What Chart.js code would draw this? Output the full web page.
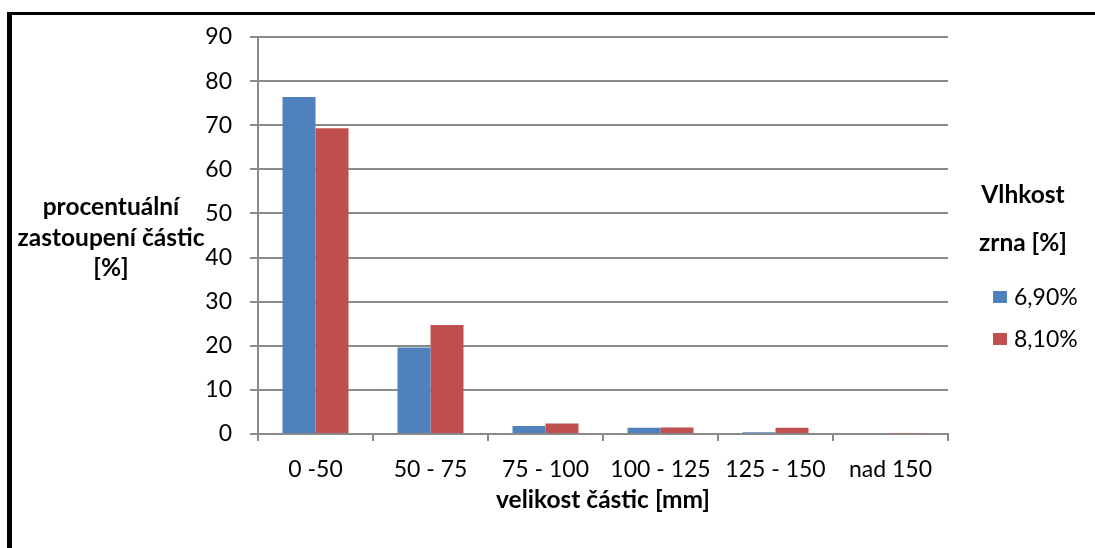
<!DOCTYPE html>
<html>
<head>
<meta charset="utf-8">
<script src="https://cdn.jsdelivr.net/npm/chart.js@4/dist/chart.umd.min.js"></script>
<style>
  html, body { margin: 0; padding: 0; background: #ffffff; }
  #wrap { width: 1095px; height: 548px; }
</style>
</head>
<body>
<div id="wrap"><canvas id="c" width="1095" height="548"></canvas></div>
<script>
// Particle size classes [mm]
const categories = ['0 -50', '50 - 75', '75 - 100', '100 - 125', '125 - 150', 'nad 150'];
// Share of particles [%] for each grain moisture
const moisture690 = [76.4, 19.6, 1.8, 1.4, 0.4, 0.0];
const moisture810 = [69.3, 24.7, 2.4, 1.5, 1.4, 0.1];
const seriesLabels = ['6,90%', '8,10%'];
const seriesColors = ['#4F81BD', '#C0504D'];
const yTicks = { min: 0, max: 90, step: 10 };

const yTitleLines = ['procentuální', 'zastoupení částic', '[%]'];
const legendTitleLines = ['Vlhkost', 'zrna [%]'];
const xTitle = 'velikost částic [mm]';

const FONT = 'Lato, Carlito, Calibri, "Open Sans", sans-serif';
const GRID = '#8a8a8a';
const TICK_SIZE = 23;
const BOLD_SIZE = 24.5;

// Page frame, horizontal y-axis title and the custom legend
const decor = {
  id: 'decor',
  afterDraw(chart) {
    const ctx = chart.ctx;
    ctx.save();
    ctx.fillStyle = '#000000';
    ctx.fillRect(7, 12, 1088, 3);
    ctx.fillRect(7, 12, 5, 536);

    ctx.fillStyle = '#000000';
    ctx.textAlign = 'center';
    ctx.textBaseline = 'middle';
    ctx.font = 'bold ' + BOLD_SIZE + 'px ' + FONT;
    const yTitleY = [207, 238, 268];
    yTitleLines.forEach((t, i) => ctx.fillText(t, 111, yTitleY[i]));

    const legTitleY = [195, 243];
    legendTitleLines.forEach((t, i) => ctx.fillText(t, 1023, legTitleY[i]));

    ctx.font = TICK_SIZE + 'px ' + FONT;
    ctx.textAlign = 'left';
    const itemY = [297, 339];
    seriesLabels.forEach((t, i) => {
      ctx.fillStyle = seriesColors[i];
      ctx.fillRect(993, itemY[i] - 6, 14, 12);
      ctx.fillStyle = '#000000';
      ctx.fillText(t, 1014, itemY[i] + 1);
    });
    ctx.restore();
  }
};

new Chart(document.getElementById('c'), {
  type: 'bar',
  data: {
    labels: categories,
    datasets: [
      { label: seriesLabels[0], data: moisture690, backgroundColor: seriesColors[0] },
      { label: seriesLabels[1], data: moisture810, backgroundColor: seriesColors[1] }
    ]
  },
  options: {
    responsive: false,
    animation: false,
    devicePixelRatio: 1,
    layout: { padding: { left: 0, top: 37, right: 147, bottom: 0 } },
    datasets: { bar: { barPercentage: 1.0, categoryPercentage: 0.574, borderWidth: 0 } },
    plugins: {
      legend: { display: false },
      title: { display: false },
      tooltip: { enabled: false }
    },
    scales: {
      x: {
        afterFit(scale) { scale.height = 114; },
        grid: { display: true, drawOnChartArea: false, drawTicks: true, tickLength: 7, color: GRID, lineWidth: 2, offset: true },
        border: { display: true, color: GRID, width: 2 },
        ticks: { color: '#000000', font: { family: FONT, size: TICK_SIZE }, padding: 15, maxRotation: 0, autoSkip: false },
        title: { display: true, text: xTitle, color: '#000000', font: { family: FONT, size: BOLD_SIZE, weight: 'bold' }, padding: { top: 0, bottom: 33 } }
      },
      y: {
        min: yTicks.min,
        max: yTicks.max,
        afterFit(scale) { scale.width = 258; },
        grid: { color: GRID, lineWidth: 2, drawTicks: true, tickLength: 8 },
        border: { display: true, color: GRID, width: 2 },
        ticks: { stepSize: yTicks.step, color: '#000000', font: { family: FONT, size: TICK_SIZE }, padding: 18 }
      }
    }
  },
  plugins: [decor]
});
</script>
</body>
</html>
